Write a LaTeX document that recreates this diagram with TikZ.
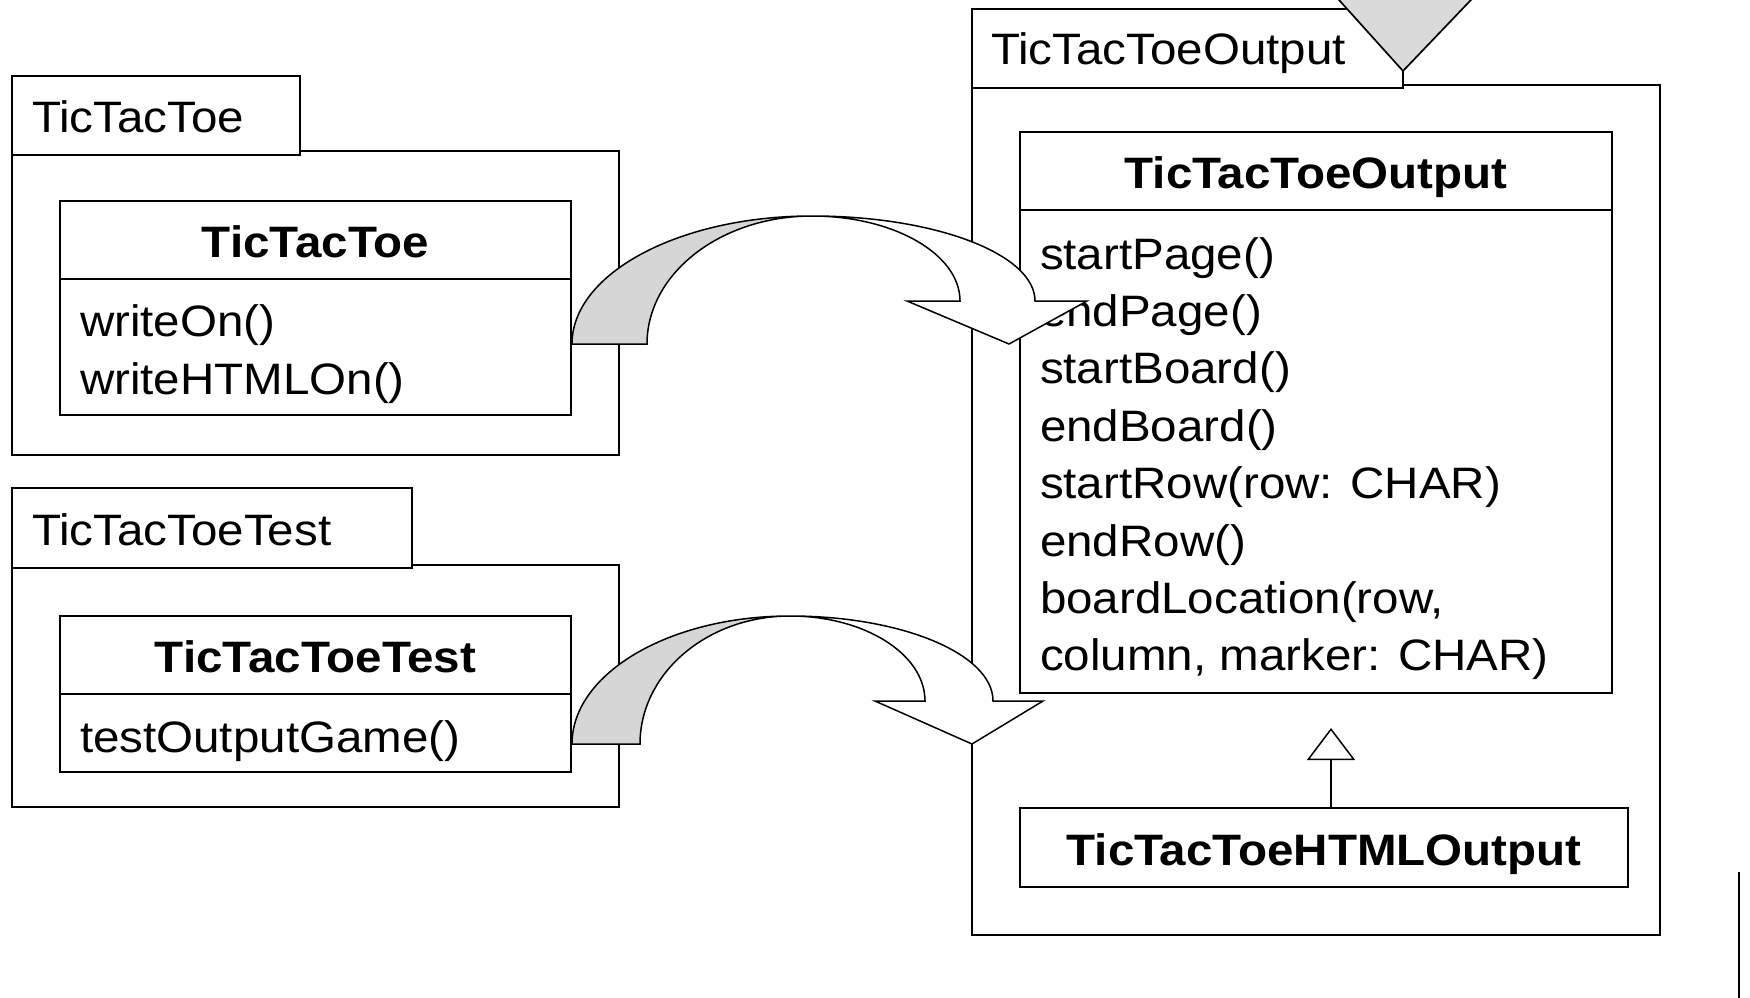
\documentclass[tikz,border=0pt]{standalone}
\usepackage{fontspec}
\setmainfont[FakeStretch=1.08]{Liberation Sans}
\usetikzlibrary{arrows.meta,calc}

\definecolor{ribgray}{HTML}{D6D6D6}
\definecolor{trigray}{HTML}{DADADA}

\tikzset{
  umlbox/.style={draw, line width=1.7pt, fill=white, inner sep=0pt, outer sep=0pt, anchor=north west},
  txt/.style={inner sep=0pt, outer sep=0pt, font=\fontsize{44}{55}\selectfont},
  headtxt/.style={font=\fontsize{44}{55}\selectfont\bfseries, text height=35pt, text depth=0pt},
  tabtxt/.style={txt, anchor=base west},
  optxt/.style={txt, anchor=base west},
  generalization/.style={line width=1.5pt, -{Triangle[open, length=32pt, width=48pt, fill=white, line width=1.5pt]}},
  ribbon/.style={line width=1.5pt, line join=miter},
}

% rectangle node from corner (x1,y1) to (x2,y2), y grows downwards
\newcommand\umlrect[6][]{%
  \node[umlbox, minimum width={(#5-#3)*1pt}, minimum height={(#6-#4)*1pt}, #1] (#2) at (#3,#4) {};}

% curved block arrow: outer base x, inner base x, crest x, inner end x,
% outer end x, left barb x, tip x, right barb x, base y
\newcommand\ribbonarrow[9]{%
  \pgfmathsetmacro\yb{#9}%
  \pgfmathsetmacro\yt{#9-128}%
  \pgfmathsetmacro\yh{#9-43}%
  \def\kk{0.5523}%
  \filldraw[ribbon, fill=ribgray]
    (#1,\yb) .. controls (#1,{\yb-\kk*128}) and ({#3-\kk*(#3-#1)},\yt) .. (#3,\yt)
    .. controls ({#3-\kk*(#3-#2)},\yt) and (#2,{\yb-\kk*128}) .. (#2,\yb) -- cycle;
  \filldraw[ribbon, fill=white]
    (#3,\yt) .. controls ({#3+\kk*(#5-#3)},\yt) and (#5,{\yh-\kk*85}) .. (#5,\yh)
    -- (#8,\yh) -- (#7,\yb) -- (#6,\yh) -- (#4,\yh)
    .. controls (#4,{\yh-\kk*85}) and ({#3+\kk*(#4-#3)},\yt) .. (#3,\yt) -- cycle;}

\begin{document}
\begin{tikzpicture}[x=1pt, y=-1pt]
\useasboundingbox (0,0) rectangle (1750,998);

% ---------- package TicTacToe ----------
\umlrect{tttpkg}{12}{151}{619}{455}
\umlrect{ttttab}{12}{76}{300}{155}
\node[tabtxt] (ttttabname) at (32,132) {TicTacToe};

\umlrect{tttclshead}{60}{201}{571}{279}
\umlrect{tttclsbody}{60}{279}{571}{415}
\node[headtxt, inner sep=0pt] (tttclsname) at (tttclshead.center) {TicTacToe};
\node[optxt] (tttop0) at (80,336) {writeOn()};
\node[optxt] (tttop1) at (80,394) {writeHTMLOn()};

% ---------- package TicTacToeTest ----------
\umlrect{testpkg}{12}{565}{619}{807}
\umlrect{testtab}{12}{488}{412}{568}
\node[tabtxt] (testtabname) at (32,545) {TicTacToeTest};

\umlrect{testclshead}{60}{616}{571}{694}
\umlrect{testclsbody}{60}{694}{571}{772}
\node[headtxt, inner sep=0pt] (testclsname) at (testclshead.center) {TicTacToeTest};
\node[optxt] (testop0) at (80,752) {testOutputGame()};

% ---------- package TicTacToeOutput ----------
\umlrect{outpkg}{972}{85}{1660}{935}
\umlrect{outtab}{972}{9}{1403}{88}
\node[tabtxt] (outtabname) at (991,65) {TicTacToeOutput};

\umlrect{outclshead}{1020}{132}{1612}{210}
\umlrect{outclsbody}{1020}{210}{1612}{693}
\node[headtxt, inner sep=0pt] (outclsname) at (outclshead.center) {TicTacToeOutput};
\foreach \m [count=\i from 0] in {startPage(), endPage(), startBoard(), endBoard(),
    startRow(row: CHAR), endRow(), {boardLocation(row,}, {column, marker: CHAR)}}
  \node[optxt] (outop\i) at (1040,{269+57.4*\i}) {\m};

\umlrect{htmlcls}{1020}{808}{1628}{887}
\node[headtxt, inner sep=0pt] (htmlclsname) at (htmlcls.center) {TicTacToeHTMLOutput};

% generalization
\coordinate (genx) at (1331,0);
\draw[generalization, shorten >=35pt] (htmlcls.north -| genx) -- (outclsbody.south -| genx);

% ---------- dependency block arrows ----------
\ribbonarrow{572}{647}{812}{960}{1035}{907}{1009}{1087}{344}
\ribbonarrow{572}{640}{790}{925}{993}{875}{972}{1043}{744}

% ---------- cut-off shapes at the edges ----------
\begin{scope}
  \clip (0,0) rectangle (1750,998);
  \filldraw[line width=1.7pt, fill=trigray] (1321,-20) -- (1403,71) -- (1490,-20) -- cycle;
  \draw[line width=1.7pt] (1739,872) -- (1739,1010);
\end{scope}
\end{tikzpicture}
\end{document}
